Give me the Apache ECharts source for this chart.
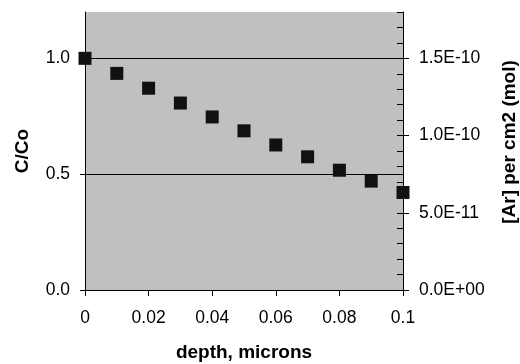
<!DOCTYPE html>
<html>
<head>
<meta charset="utf-8">
<script src="https://cdn.jsdelivr.net/npm/echarts@6/dist/echarts.min.js"></script>
<style>
  html, body { margin: 0; padding: 0; background: #fff; }
  #chart { width: 520px; height: 364px; }
</style>
</head>
<body>
<div id="chart"></div>
<script>
// depth in microns vs. normalised concentration
const depth = [0, 0.01, 0.02, 0.03, 0.04, 0.05, 0.06, 0.07, 0.08, 0.09, 0.1];
const cOverCo = [1.0, 0.935, 0.871, 0.807, 0.747, 0.687, 0.626, 0.575, 0.517, 0.470, 0.421];

const leftTicks = [0, 0.5, 1.0];
const rightTicks = [0, 5e-11, 1e-10, 1.5e-10];

const FONT = "'Liberation Sans', Arial, sans-serif";

const fmtExp = (v) => {
  const [m, e] = v.toExponential(1).split("e");
  const sign = e[0] === "-" ? "-" : "+";
  const digits = e.replace(/^[+-]/, "").padStart(2, "0");
  return m + "E" + sign + digits;
};

const chart = echarts.init(document.getElementById("chart"));

const labelStyle = { color: "#000", fontSize: 17.5, fontFamily: FONT };
const nameStyle = { color: "#000", fontSize: 19, fontWeight: "bold", fontFamily: FONT };

chart.setOption({
  animation: false,
  grid: {
    left: 85,
    right: 117,
    top: 12,
    bottom: 74,
    show: true,
    backgroundColor: "#c0c0c0",
    borderWidth: 0,
    outerBoundsMode: "none",
  },
  xAxis: {
    type: "value",
    min: 0,
    max: 0.1,
    interval: 0.02,
    name: "depth, microns",
    nameLocation: "middle",
    nameGap: 53,
    nameTextStyle: nameStyle,
    axisLine: { show: true, lineStyle: { color: "#000", width: 1 } },
    axisTick: { show: true, inside: false, length: 6, lineStyle: { color: "#000" } },
    axisLabel: { ...labelStyle, margin: 19 },
    splitLine: { show: false },
  },
  yAxis: [
    {
      type: "value",
      position: "left",
      min: 0,
      max: 1.2,
      interval: 0.5,
      name: "C/Co",
      nameLocation: "middle",
      nameGap: 53,
      nameRotate: 90,
      nameTextStyle: nameStyle,
      axisLine: { show: true, lineStyle: { color: "#000", width: 1 } },
      axisTick: { show: true, length: 5, customValues: leftTicks, lineStyle: { color: "#000" } },
      axisLabel: {
        ...labelStyle,
        margin: 15,
        customValues: leftTicks,
        formatter: (v) => v.toFixed(1),
      },
      splitLine: {
        show: true,
        lineStyle: { color: ["#000", "#000", "#000", "rgba(0,0,0,0)"], width: 1 },
      },
    },
    {
      // inside ticks every 1E-11
      type: "value",
      position: "right",
      min: 0,
      max: 1.8e-10,
      interval: 1e-11,
      axisLine: { show: false },
      axisTick: { show: true, inside: true, length: 6, lineStyle: { color: "#000" } },
      axisLabel: { show: false },
      splitLine: { show: false },
    },
    {
      type: "value",
      position: "right",
      min: 0,
      max: 1.8e-10,
      interval: 5e-11,
      name: "[Ar] per cm2 (mol)",
      nameLocation: "middle",
      nameGap: 97,
      nameRotate: 90,
      nameTextStyle: { ...nameStyle, padding: [0, 0, 0, 18] },
      axisLine: { show: true, lineStyle: { color: "#000", width: 1 } },
      axisTick: { show: true, inside: false, length: 6, customValues: rightTicks, lineStyle: { color: "#000" } },
      axisLabel: {
        ...labelStyle,
        margin: 16,
        customValues: rightTicks,
        formatter: fmtExp,
      },
      splitLine: { show: false },
    },
  ],
  series: [
    {
      type: "scatter",
      name: "C/Co",
      yAxisIndex: 0,
      data: depth.map((d, i) => [d, cOverCo[i]]),
      symbol: "rect",
      symbolSize: 13,
      clip: false,
      itemStyle: { color: "#111", opacity: 1 },
    },
  ],
});
</script>
</body>
</html>
